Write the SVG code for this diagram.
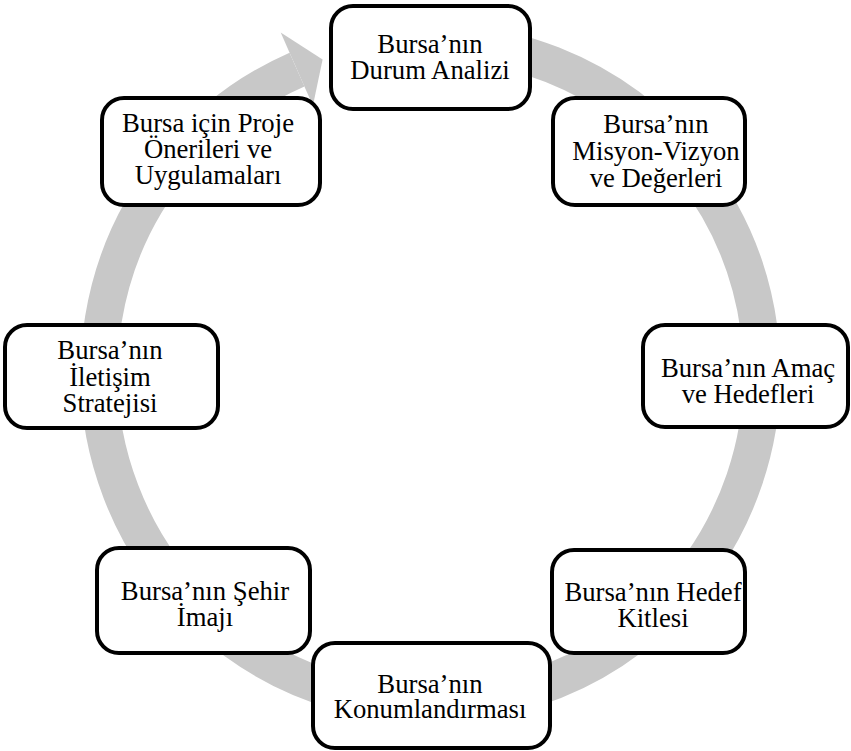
<svg xmlns="http://www.w3.org/2000/svg" width="851" height="751" viewBox="0 0 851 751">
<style>
.box{fill:#fff;stroke:#000;stroke-width:4}
.t{font-family:"Liberation Serif","Times New Roman","DejaVu Serif",serif;font-size:26.7px;fill:#000;text-anchor:middle}
.ring{fill:none;stroke:#c8c8c8;stroke-width:37}
</style>
<rect width="851" height="751" fill="#fff"/>
<g id="connectors">
<path class="ring" d="M 297.0 69.6 A 331.5 331.5 0 1 0 401.6 42.8"/>
<polygon points="280.7,32.5 322.6,59.6 312.9,105.7" fill="#c8c8c8"/>
</g>
<g id="n1"><rect class="box" x="331" y="6" width="199" height="103" rx="22"/>
<text class="t" x="430" y="53.3">Bursa’nın</text><text class="t" x="430" y="79.3">Durum Analizi</text></g>
<g id="n2"><rect class="box" x="553" y="98" width="192" height="107" rx="22"/>
<text class="t" x="656" y="133.3">Bursa’nın</text><text class="t" x="656" y="160">Misyon-Vizyon</text><text class="t" x="656" y="186.7">ve Değerleri</text></g>
<g id="n3"><rect class="box" x="643" y="325" width="205" height="102" rx="22"/>
<text class="t" x="748" y="376.7">Bursa’nın Amaç</text><text class="t" x="748" y="403.3">ve Hedefleri</text></g>
<g id="n4"><rect class="box" x="5" y="325" width="213" height="103" rx="22"/>
<text class="t" x="110" y="359.3">Bursa’nın</text><text class="t" x="110" y="386">İletişim</text><text class="t" x="110" y="411.7">Stratejisi</text></g>
<g id="n5"><rect class="box" x="97" y="548" width="213" height="105" rx="22"/>
<text class="t" x="205" y="600">Bursa’nın Şehir</text><text class="t" x="205" y="626">İmajı</text></g>
<g id="n6"><rect class="box" x="552" y="550" width="193" height="103" rx="22"/>
<text class="t" x="653" y="600.7">Bursa’nın Hedef</text><text class="t" x="653" y="627.3">Kitlesi</text></g>
<g id="n7"><rect class="box" x="313" y="643" width="237" height="105" rx="22"/>
<text class="t" x="430" y="692.7">Bursa’nın</text><text class="t" x="430" y="718.3">Konumlandırması</text></g>
<g id="n8"><rect class="box" x="102" y="98" width="218" height="107" rx="22"/>
<text class="t" x="208" y="131.7">Bursa için Proje</text><text class="t" x="208" y="158.3">Önerileri ve</text><text class="t" x="208" y="184.3">Uygulamaları</text></g>
</svg>
